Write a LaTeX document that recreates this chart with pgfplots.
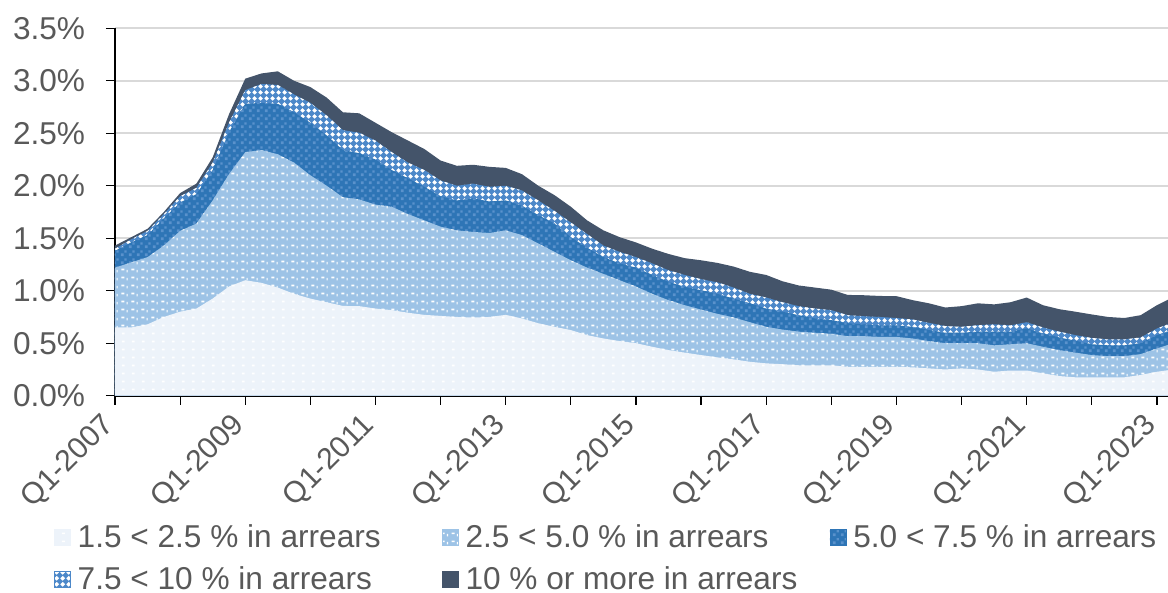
\documentclass[border=0pt]{standalone}
\usepackage{fontspec}
\setmainfont{Liberation Sans}
\usepackage{pgfplots}
\usepackage{pgfplotstable}
\pgfplotsset{compat=1.18}
\usetikzlibrary{patterns}
\definecolor{tgrey}{HTML}{595959}
\definecolor{gridc}{HTML}{D9D9D9}
\definecolor{cA}{HTML}{EDF3FA}
\definecolor{cB}{HTML}{9DC3E6}
\definecolor{cC}{HTML}{2E75B6}
\definecolor{cCl}{HTML}{5A92CC}
\definecolor{cD}{HTML}{4C88C9}
\definecolor{cE}{HTML}{44546A}
\newcommand\lstrut{\rule[-1.6pt]{0pt}{14.5pt}}
\pgfdeclarepatternformonly{patA}{\pgfqpoint{0pt}{0pt}}{\pgfqpoint{5pt}{4pt}}{\pgfqpoint{5pt}{4pt}}{%
  \pgfpathrectangle{\pgfqpoint{1pt}{1.5pt}}{\pgfqpoint{1.6pt}{0.9pt}}\pgfusepath{fill}}
\pgfdeclarepatternformonly{patB}{\pgfqpoint{0pt}{0pt}}{\pgfqpoint{5pt}{4pt}}{\pgfqpoint{5pt}{4pt}}{%
  \pgfpathrectangle{\pgfqpoint{0.8pt}{1.5pt}}{\pgfqpoint{1.6pt}{0.9pt}}\pgfusepath{fill}%
  \pgfpathrectangle{\pgfqpoint{3.6pt}{0.3pt}}{\pgfqpoint{0.6pt}{1.4pt}}\pgfusepath{fill}}
\pgfdeclarepatternformonly{patC}{\pgfqpoint{0pt}{0pt}}{\pgfqpoint{4pt}{4pt}}{\pgfqpoint{4pt}{4pt}}{%
  \pgfpathrectangle{\pgfqpoint{0.5pt}{0.5pt}}{\pgfqpoint{1.5pt}{1.5pt}}\pgfusepath{fill}%
  \pgfpathrectangle{\pgfqpoint{2.5pt}{2.5pt}}{\pgfqpoint{1.2pt}{1.2pt}}\pgfusepath{fill}}
\pgfdeclarepatternformonly{patD}{\pgfqpoint{0pt}{0pt}}{\pgfqpoint{3pt}{3pt}}{\pgfqpoint{3pt}{3pt}}{%
  \pgfpathmoveto{\pgfqpoint{1.5pt}{0.15pt}}\pgfpathlineto{\pgfqpoint{2.85pt}{1.5pt}}%
  \pgfpathlineto{\pgfqpoint{1.5pt}{2.85pt}}\pgfpathlineto{\pgfqpoint{0.15pt}{1.5pt}}\pgfpathclose\pgfusepath{fill}}
\pgfplotstableread{
i T C4 C3 C2 C1
0 1.43 1.40 1.38 1.22 0.65
1 1.51 1.49 1.46 1.27 0.65
2 1.59 1.57 1.53 1.32 0.68
3 1.75 1.73 1.69 1.43 0.75
4 1.93 1.90 1.84 1.57 0.80
5 2.02 1.98 1.92 1.64 0.83
6 2.27 2.22 2.15 1.86 0.925
7 2.68 2.60 2.51 2.11 1.04
8 3.02 2.91 2.78 2.32 1.10
9 3.07 2.97 2.79 2.34 1.075
10 3.09 2.96 2.78 2.30 1.03
11 3.00 2.87 2.70 2.22 0.97
12 2.94 2.79 2.60 2.10 0.925
13 2.84 2.67 2.48 2.00 0.89
14 2.70 2.53 2.34 1.89 0.855
15 2.69 2.505 2.31 1.87 0.853
16 2.60 2.43 2.25 1.82 0.83
17 2.51 2.32 2.15 1.80 0.815
18 2.43 2.22 2.07 1.73 0.79
19 2.35 2.15 1.99 1.67 0.77
20 2.24 2.05 1.90 1.61 0.76
21 2.19 2.00 1.86 1.575 0.75
22 2.20 2.02 1.88 1.56 0.745
23 2.18 1.99 1.85 1.55 0.75
24 2.17 2.00 1.86 1.575 0.77
25 2.11 1.955 1.81 1.53 0.735
26 2.00 1.86 1.72 1.45 0.69
27 1.91 1.76 1.64 1.37 0.656
28 1.80 1.65 1.51 1.29 0.625
29 1.67 1.54 1.41 1.22 0.577
30 1.575 1.43 1.32 1.16 0.545
31 1.51 1.37 1.26 1.10 0.52
32 1.46 1.32 1.22 1.04 0.50
33 1.40 1.26 1.15 0.97 0.466
34 1.35 1.195 1.085 0.91 0.434
35 1.31 1.15 1.036 0.862 0.41
36 1.29 1.11 1.005 0.82 0.387
37 1.265 1.08 0.97 0.78 0.365
38 1.23 1.03 0.925 0.745 0.346
39 1.18 0.97 0.88 0.70 0.323
40 1.15 0.935 0.83 0.656 0.308
41 1.09 0.89 0.80 0.63 0.30
42 1.05 0.853 0.767 0.61 0.29
43 1.03 0.83 0.735 0.60 0.29
44 1.01 0.815 0.72 0.59 0.29
45 0.96 0.767 0.69 0.567 0.275
46 0.957 0.757 0.68 0.567 0.275
47 0.95 0.75 0.67 0.56 0.275
48 0.948 0.74 0.67 0.56 0.275
49 0.91 0.726 0.656 0.545 0.27
50 0.88 0.694 0.625 0.52 0.26
51 0.84 0.663 0.60 0.50 0.25
52 0.853 0.656 0.60 0.50 0.26
53 0.88 0.672 0.61 0.50 0.25
54 0.87 0.68 0.61 0.48 0.228
55 0.89 0.67 0.61 0.49 0.24
56 0.935 0.70 0.64 0.50 0.24
57 0.862 0.65 0.593 0.466 0.213
58 0.824 0.61 0.555 0.434 0.187
59 0.80 0.577 0.523 0.41 0.175
60 0.774 0.55 0.49 0.387 0.175
61 0.75 0.536 0.48 0.377 0.175
62 0.74 0.536 0.48 0.377 0.175
63 0.767 0.555 0.50 0.396 0.197
64 0.862 0.64 0.577 0.45 0.228
65 0.94 0.70 0.63 0.50 0.25
}\data
\begin{document}
\fontsize{15.8pt}{18.5pt}\selectfont
\begin{tikzpicture}
\begin{axis}[
  set layers,
  scale only axis,
  width=526.5pt, height=183.7pt,
  xmin=0, xmax=64.68, ymin=0, ymax=3.5,
  axis x line*=bottom, axis y line*=left,
  axis line style={black, line width=1.1pt, on layer=axis foreground},
  tick style={black, line width=0.6pt, on layer=axis foreground},
  tick align=outside,
  major tick length=4.5pt,
  xtick={0,4,...,64},
  xticklabels={},
  ytick={0,0.5,...,3.5},
  yticklabels={0.0\%,0.5\%,1.0\%,1.5\%,2.0\%,2.5\%,3.0\%,3.5\%},
  yticklabel style={text=tgrey, xshift=-5pt},
  ymajorgrids,
  grid style={gridc, line width=0.8pt},
  legend columns=3,
  legend style={draw=none, fill=none, inner sep=0pt, outer sep=0pt,
    at={(axis description cs:-0.058,-0.333)}, anchor=north west,
    nodes={inner sep=2pt, text=tgrey}, row sep=1.8pt, column sep=0pt},
  legend cell align=left,
]
\addlegendimage{legend image code/.code={\fill[cA,postaction={pattern=patA,pattern color=white}] (0pt,-4pt) rectangle (8pt,4pt);}}
\addlegendentry{\makebox[181.5pt][l]{\lstrut\hspace{1.5pt}1.5 < 2.5 \% in arrears}}
\addlegendimage{legend image code/.code={\fill[cB,postaction={pattern=patB,pattern color=white}] (0pt,-4pt) rectangle (8pt,4pt);}}
\addlegendentry{\makebox[181.5pt][l]{\lstrut\hspace{1.5pt}2.5 < 5.0 \% in arrears}}
\addlegendimage{legend image code/.code={\fill[cC,postaction={pattern=patC,pattern color=cCl}] (0pt,-4pt) rectangle (8pt,4pt);}}
\addlegendentry{\makebox[181.5pt][l]{\lstrut\hspace{1.5pt}5.0 < 7.5 \% in arrears}}
\addlegendimage{legend image code/.code={\fill[cD,postaction={pattern=patD,pattern color=white}] (0pt,-4pt) rectangle (8pt,4pt);}}
\addlegendentry{\makebox[181.5pt][l]{\lstrut\hspace{1.5pt}7.5 < 10 \% in arrears}}
\addlegendimage{legend image code/.code={\fill[cE] (0pt,-4pt) rectangle (8pt,4pt);}}
\addlegendentry{\makebox[181.5pt][l]{\lstrut\hspace{1.5pt}10 \% or more in arrears}}
\addplot[forget plot, fill=cE, draw=none] table[x=i,y=T]{\data} \closedcycle;
\addplot[forget plot, fill=cD, draw=none, postaction={pattern=patD,pattern color=white}] table[x=i,y=C4]{\data} \closedcycle;
\addplot[forget plot, fill=cC, draw=none, postaction={pattern=patC,pattern color=cCl}] table[x=i,y=C3]{\data} \closedcycle;
\addplot[forget plot, fill=cB, draw=none, postaction={pattern=patB,pattern color=white}] table[x=i,y=C2]{\data} \closedcycle;
\addplot[forget plot, fill=cA, draw=none, postaction={pattern=patA,pattern color=white}] table[x=i,y=C1]{\data} \closedcycle;
\coordinate (BL) at (rel axis cs:0,0);
\coordinate (TR) at (rel axis cs:1,1);
\coordinate (q0) at (axis cs:0,0);
\coordinate (q8) at (axis cs:8,0);
\coordinate (q16) at (axis cs:16,0);
\coordinate (q24) at (axis cs:24,0);
\coordinate (q32) at (axis cs:32,0);
\coordinate (q40) at (axis cs:40,0);
\coordinate (q48) at (axis cs:48,0);
\coordinate (q56) at (axis cs:56,0);
\coordinate (q64) at (axis cs:64,0);
\end{axis}
\foreach \k/\yr in {0/2007,8/2009,16/2011,24/2013,32/2015,40/2017,48/2019,56/2021,64/2023}
  \node[rotate=45, anchor=east, inner sep=0pt, text=tgrey, font=\fontsize{15pt}{18pt}\selectfont]
    at ([xshift=-2.5pt,yshift=-12.5pt]q\k) {Q1-\yr};
\pgfresetboundingbox
\path[use as bounding box] ([xshift=-57.5pt,yshift=-98.65pt]BL) rectangle ([yshift=14.15pt]TR);
\end{tikzpicture}
\end{document}
